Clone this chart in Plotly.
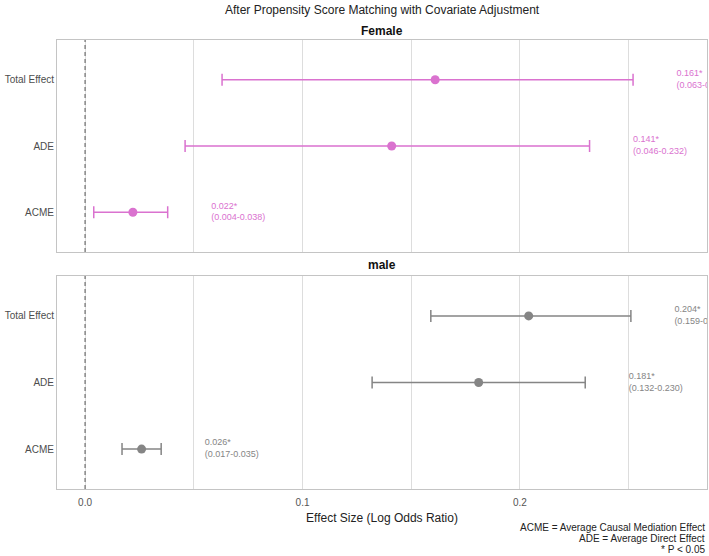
import plotly.graph_objects as go

# ---- data ----
effects = ["Total Effect", "ADE", "ACME"]
female_est = [0.161, 0.141, 0.022]
female_lo = [0.063, 0.046, 0.004]
female_hi = [0.252, 0.232, 0.038]
male_est = [0.204, 0.181, 0.026]
male_lo = [0.159, 0.132, 0.017]
male_hi = [0.251, 0.230, 0.035]
female_lbl = ["0.161*<br>(0.063-0.252)", "0.141*<br>(0.046-0.232)", "0.022*<br>(0.004-0.038)"]
male_lbl = ["0.204*<br>(0.159-0.251)", "0.181*<br>(0.132-0.230)", "0.026*<br>(0.017-0.035)"]
panels = ["Female", "male"]
x_ticks = [0.0, 0.1, 0.2]
x_ticktext = ["0.0", "0.1", "0.2"]
caption = ["ACME = Average Causal Mediation Effect", "ADE = Average Direct Effect", "* P < 0.05"]

PINK = "#DA72CF"
GREY = "#858585"
FONT = "Liberation Sans, Arial, sans-serif"

fig = go.Figure()

def add_panel(est, lo, hi, lbl, color, xa, ya):
    fig.add_trace(go.Scatter(
        x=est, y=effects, mode="markers", xaxis=xa, yaxis=ya,
        marker=dict(color=color, size=9),
        error_x=dict(type="data", symmetric=False,
                     array=[h - e for h, e in zip(hi, est)],
                     arrayminus=[e - l for e, l in zip(est, lo)],
                     color=color, thickness=1.5, width=6),
        showlegend=False, hoverinfo="skip"))
    fig.add_trace(go.Scatter(
        x=[h + 0.02 for h in hi], y=effects, mode="text", xaxis=xa, yaxis=ya,
        text=lbl, textposition="middle right",
        textfont=dict(color=color, size=9, family=FONT),
        cliponaxis=True, showlegend=False, hoverinfo="skip"))

add_panel(female_est, female_lo, female_hi, female_lbl, PINK, "x", "y")
add_panel(male_est, male_lo, male_hi, male_lbl, GREY, "x2", "y2")

xr = [-0.0129, 0.286]
common_x = dict(range=xr, showgrid=True, gridcolor="#dddddd", gridwidth=1,
                zeroline=False, showline=True, mirror=True, linecolor="#c4c4c4",
                linewidth=1, tickvals=x_ticks, ticktext=x_ticktext,
                ticks="outside", ticklen=4, tickcolor="rgba(0,0,0,0)",
                minor=dict(showgrid=True, gridcolor="#dddddd", gridwidth=1,
                           tick0=0, dtick=0.05, ticks=""),
                tickfont=dict(size=10, color="#555555", family=FONT))
common_y = dict(type="category", categoryarray=effects[::-1], range=[-0.6, 2.6],
                showgrid=False, zeroline=False, showline=True, mirror=True,
                linecolor="#c4c4c4", linewidth=1, ticks="",
                tickfont=dict(size=10, color="#4d4d4d", family=FONT))

H = 556
top, bot = 40, 67
ph = H - top - bot
d1 = (489 - 252) / ph
d2 = (489 - 276) / ph

fig.update_layout(
    width=709, height=556,
    margin=dict(l=57, r=2, t=top, b=bot),
    paper_bgcolor="white", plot_bgcolor="white",
    font=dict(family=FONT, color="#222222"),
    xaxis=dict(common_x, anchor="y", showticklabels=False, matches="x2"),
    xaxis2=dict(common_x, anchor="y2",
                title=dict(text="Effect Size (Log Odds Ratio)", standoff=6,
                           font=dict(size=12, color="#222222", family=FONT))),
    yaxis=dict(common_y, domain=[d1, 1], anchor="x"),
    yaxis2=dict(common_y, domain=[0, d2], anchor="x2"),
)

for xa, ya in [("x", "y"), ("x2", "y2")]:
    fig.add_shape(type="line", x0=0, x1=0, y0=0, y1=1, xref=xa, yref=ya + " domain",
                  line=dict(color="#555555", width=1, dash="4px,3px"))

ann = [
    dict(text="After Propensity Score Matching with Covariate Adjustment",
         x=0.5, y=1, yshift=30, xref="paper", yref="paper", showarrow=False,
         font=dict(size=12, color="#222222", family=FONT), yanchor="middle"),
    dict(text="<b>" + panels[0] + "</b>", x=0.5, y=1, yshift=9, xref="paper", yref="paper",
         showarrow=False, font=dict(size=12, color="#111111", family=FONT), yanchor="middle"),
    dict(text="<b>" + panels[1] + "</b>", x=0.5, y=d2, yshift=11, xref="paper", yref="paper",
         showarrow=False, font=dict(size=12, color="#111111", family=FONT), yanchor="middle"),
]
cap_y = [527, 538.5, 549.5]
for line, yc in zip(caption, cap_y):
    ann.append(dict(text=line, x=1, y=0, yshift=-(yc - 489), xref="paper", yref="paper",
                    showarrow=False, xanchor="right", yanchor="middle", align="right",
                    font=dict(size=10, color="#222222", family=FONT)))
fig.update_layout(annotations=ann)

fig.write_html("out.html")
